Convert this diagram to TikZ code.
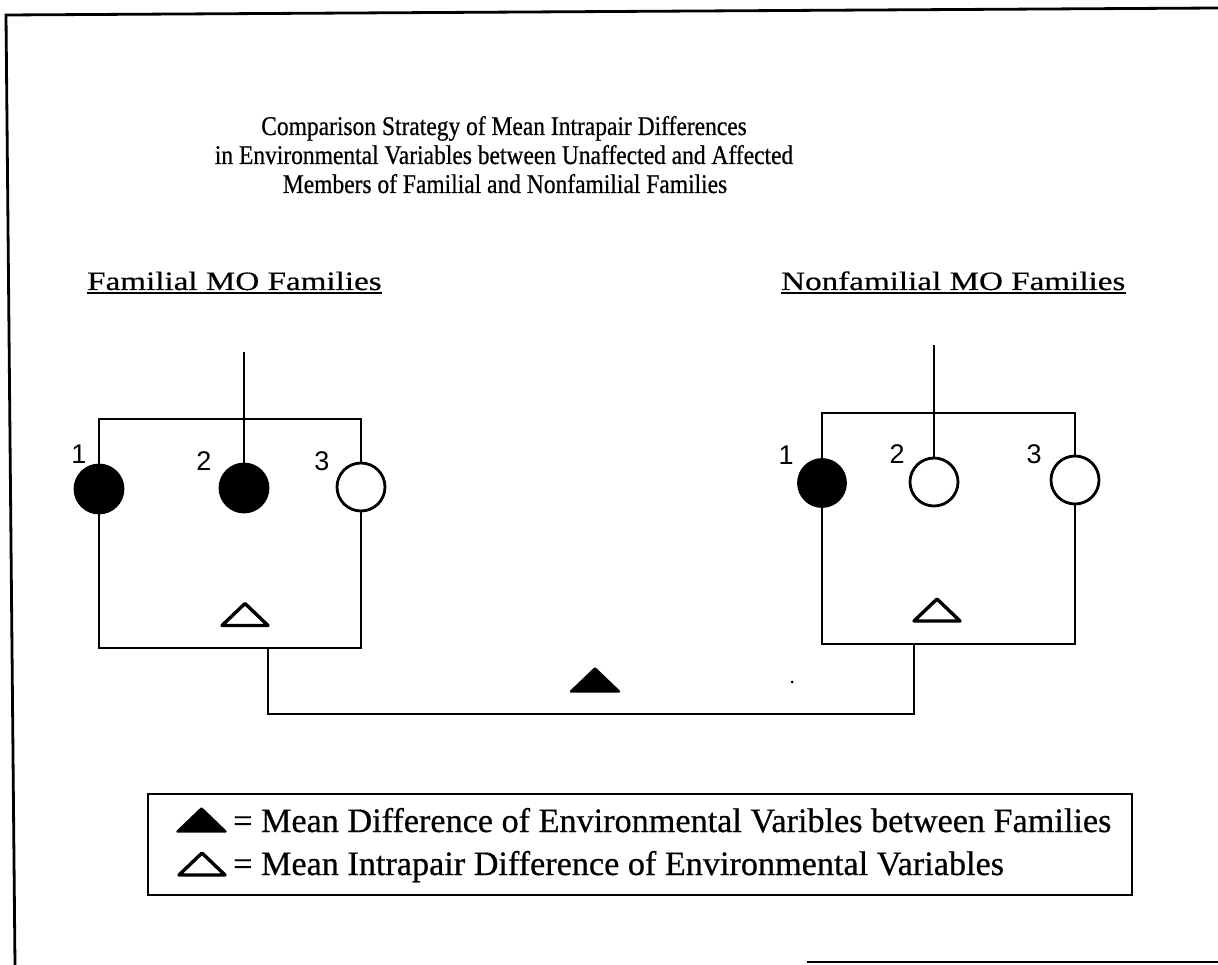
\documentclass[tikz,border=0pt]{standalone}
\usepackage{fontspec}
\setmainfont{Liberation Serif}
\newfontfamily\titlefont[FakeStretch=0.87,FakeBold=0.6]{Liberation Serif}
\newfontfamily\headfont[FakeStretch=1.25,FakeBold=0.6]{Liberation Serif}
\newfontfamily\legfont[FakeBold=0.6]{Liberation Serif}
\newfontfamily\numfont{Liberation Sans}
\tikzset{
  person/.style={circle, draw, line width=2.8pt, minimum size=48pt, inner sep=0pt},
  aff/.style={person, fill=black},
  unaff/.style={person, fill=white},
  num/.style={inner sep=0pt, font=\numfont\fontsize{27}{27}\selectfont},
  titletext/.style={anchor=base, inner sep=0pt, font=\titlefont\fontsize{27}{27}\selectfont},
  headtext/.style={anchor=base west, inner sep=0pt, font=\headfont\fontsize{26.5}{26.5}\selectfont},
  legtext/.style={anchor=base west, inner sep=0pt, font=\legfont\fontsize{34.2}{34.2}\selectfont},
  link/.style={line width=2.8pt},
  otri/.pic={\draw[line width=3.4pt, line join=round, fill=white] (-23,11) -- (0,-11) -- (23,11) -- cycle;},
  ftri/.pic={\draw[line width=2.4pt, line join=round, fill=black] (-24,11.5) -- (0,-11.5) -- (24,11.5) -- cycle;}
}
\begin{document}
\begin{tikzpicture}[x=1pt, y=-1pt]
\useasboundingbox (0,0) rectangle (1218,965);
% outer frame
\draw[link] (1218,8) -- (6,15) -- (15,965);
\draw[link] (807,962) -- (1218,962);

% title
\node[titletext] (T1) at (504,135) {Comparison Strategy of Mean Intrapair Differences};
\node[titletext] (T2) at (504,164) {in Environmental Variables between Unaffected and Affected};
\node[titletext] (T3) at (505,193) {Members of Familial and Nonfamilial Families};

% headings
\node[headtext] (FH) at (87,290) {Familial MO Families};
\draw[line width=1.8pt] ([yshift=-3pt]FH.base west) -- ([yshift=-3pt]FH.base east);
\node[headtext] (NH) at (781,290) {Nonfamilial MO Families};
\draw[line width=1.8pt] ([yshift=-3pt]NH.base west) -- ([yshift=-3pt]NH.base east);

% left family
\node[aff] (L1) at (99,489) {};
\node[aff] (L2) at (244,488) {};
\node[unaff] (L3) at (361,487) {};
\node[num] (L1n) at (79,454) {1};
\node[num] (L2n) at (204,461) {2};
\node[num] (L3n) at (322,461) {3};
\coordinate (Ltop) at (244,352);
\coordinate (Lbar) at (244,419);
\coordinate (Lbot) at (268,648);
\draw[link] (Ltop) -- (L2.north);
\draw[link] (L1.north) -- (L1.north |- Lbar) -- (L3.north |- Lbar) -- (L3.north);
\draw[link] (L1.south) -- (L1.south |- Lbot) -- (L3.south |- Lbot) -- (L3.south);
\pic at (245,614.5) {otri};

% right family
\node[aff, minimum size=47pt] (R1) at (822,483) {};
\node[unaff] (R2) at (934,482) {};
\node[unaff] (R3) at (1075,480) {};
\node[num] (R1n) at (786,455) {1};
\node[num] (R2n) at (897,454) {2};
\node[num] (R3n) at (1034,454) {3};
\coordinate (Rtop) at (934,345);
\coordinate (Rbar) at (934,413);
\coordinate (Rbot) at (914,644);
\draw[link] (Rtop) -- (R2.north);
\draw[link] (R1.north) -- (R1.north |- Rbar) -- (R3.north |- Rbar) -- (R3.north);
\draw[link] (R1.south) -- (R1.south |- Rbot) -- (R3.south |- Rbot) -- (R3.south);
\pic at (937,610) {otri};

% between families
\coordinate (Bbar) at (590,714);
\draw[link] (Lbot) -- (Lbot |- Bbar) -- (Rbot |- Bbar) -- (Rbot);
\pic at (595,680) {ftri};
\fill (792,682) circle (1.5);

% legend
\node[draw, line width=2.4pt, anchor=north west, inner sep=0pt, minimum width=984pt, minimum height=101pt] (legend) at (147,793) {};
\pic at (201.5,820) {ftri};
\node[legtext] (LG1) at (233,832) {= Mean Difference of Environmental Varibles between Families};
\pic at (202,864) {otri};
\node[legtext] (LG2) at (233,875) {= Mean Intrapair Difference of Environmental Variables};
\end{tikzpicture}
\end{document}
